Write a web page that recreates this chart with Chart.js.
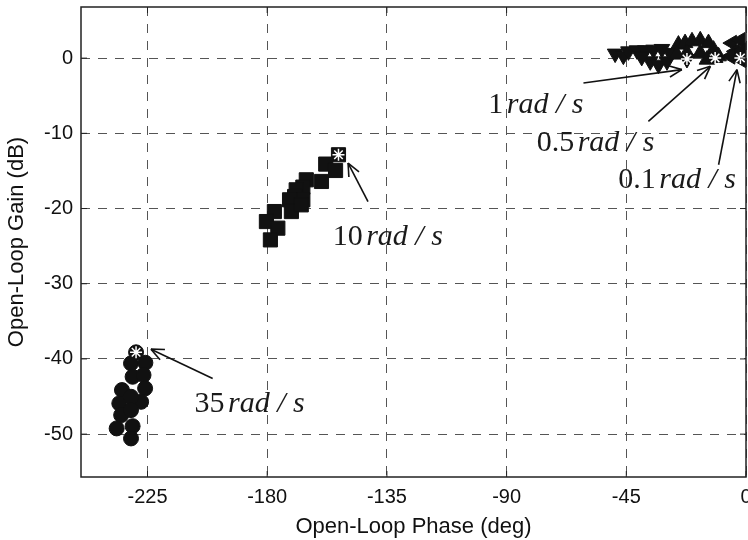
<!DOCTYPE html>
<html>
<head>
<meta charset="utf-8">
<script src="https://cdn.jsdelivr.net/npm/chart.js@4.4.0/dist/chart.umd.min.js"></script>
<style>
  html, body { margin: 0; padding: 0; background: #fff; }
</style>
</head>
<body>
<canvas id="nichols" width="748" height="540"></canvas>
<script>
// Plantillas de Nichols: fase (deg) y ganancia (dB)
const xTicks = [-225, -180, -135, -90, -45, 0];
const yTicks = [-50, -40, -30, -20, -10, 0];

// 0.1 rad/s (triangulos hacia la izquierda)
const tri01Phase = [-5.3, -2.1, -4.0, -1.1, -5.9, -1.5, -2.1];
const tri01Gain  = [2.0, 2.37, 0.9, 1.13, 0.24, -0.29, 0.03];

// 0.5 rad/s (triangulos hacia arriba)
const tri05Phase = [-25.4, -22.9, -20.3, -17.2, -14.1, -12.2, -17.2, -22.2, -26.0, -10.3, -14.7, -11.6];
const tri05Gain  = [1.8, 2.0, 2.24, 2.37, 2.0, 1.13, 0.69, 0.69, 0.47, 0.24, -0.2, 0.03];

// 1 rad/s (triangulos hacia abajo)
const tri1Phase = [-49.2, -46.1, -44.2, -41.0, -37.9, -34.8, -31.6, -36.0, -32.9, -29.7, -28.5, -39.2, -22.2];
const tri1Gain  = [0.6, 0.33, 0.9, 1.04, 1.04, 1.13, 1.22, -0.42, -0.87, -0.42, 0.69, 0.16, -0.11];

// 10 rad/s (cuadrados)
const sq10Phase = [-153.2, -158.0, -154.3, -159.6, -165.3, -166.6, -169.1, -169.7, -166.6, -171.6, -170.9, -167.2, -177.3, -180.3, -176.0, -178.8];
const sq10Gain  = [-12.85, -14.09, -14.94, -16.40, -16.18, -17.15, -17.51, -18.40, -18.84, -18.84, -20.40, -19.51, -20.40, -21.73, -22.61, -24.17];

// 35 rad/s (circulos)
const cir35Phase = [-229.3, -231.2, -225.8, -230.6, -226.5, -234.6, -225.9, -235.6, -227.4, -231.2, -234.9, -231.2, -230.6, -236.6, -231.2];
const cir35Gain  = [-39.12, -40.59, -40.51, -42.37, -42.14, -44.14, -43.91, -45.91, -45.70, -45.03, -47.47, -46.80, -48.94, -49.24, -50.57];

// Planta nominal (asteriscos blancos)
const nominalPhase = [-2.1, -11.6, -22.2, -153.2, -229.3];
const nominalGain  = [0.03, 0.03, -0.11, -12.85, -39.12];

// Etiquetas de frecuencia con flecha (texto, ancla del texto, cola y punta de la flecha)
const freqLabels = ['1', '0.5', '0.1', '10', '35'];
const annotations = [
  { tx: -96.9,  ty: -7.26,  fx: -61.1,  fy: -3.3,   hx: -24.1,  hy: -1.53 },
  { tx: -78.7,  ty: -12.3,  fx: -36.7,  fy: -8.42,  hx: -13.4,  hy: -1.09 },
  { tx: -48.0,  ty: -17.24, fx: -10.3,  fy: -14.18, hx: -3.4,   hy: -1.53 },
  { tx: -155.4, ty: -24.8,  fx: -142.1, fy: -19.07, hx: -149.6, hy: -13.95 },
  { tx: -207.3, ty: -47.1,  fx: -200.5, fy: -42.6,  hx: -223.7, hy: -38.7 }
];

const toPoints = (xs, ys) => xs.map((v, i) => ({ x: v, y: ys[i] }));

const markerSet = (data, style, radius, rotation) => ({
  data,
  pointStyle: style,
  pointRadius: radius,
  rotation: rotation || 0,
  backgroundColor: '#111',
  borderColor: '#111',
  borderWidth: 1,
  showLine: false,
  order: 1
});

/**
 * Dibuja el marco, las marcas de eje hacia dentro y las etiquetas con flechas.
 */
const nicholsDecor = {
  id: 'nicholsDecor',
  afterDatasetsDraw(chart) {
    const { ctx, chartArea: a, scales: { x, y } } = chart;
    const seg = (x1, y1, x2, y2) => { ctx.beginPath(); ctx.moveTo(x1, y1); ctx.lineTo(x2, y2); ctx.stroke(); };
    ctx.save();

    ctx.strokeStyle = '#222';
    ctx.lineWidth = 1;
    xTicks.forEach(v => {
      const px = x.getPixelForValue(v);
      seg(px, a.bottom, px, a.bottom - 6);
      seg(px, a.top, px, a.top + 6);
    });
    yTicks.forEach(v => {
      const py = y.getPixelForValue(v);
      seg(a.left, py, a.left + 6, py);
      seg(a.right, py, a.right - 6, py);
    });

    ctx.lineWidth = 1.5;
    ctx.strokeRect(a.left, a.top, a.right - a.left, a.bottom - a.top);

    // Textos y flechas
    ctx.fillStyle = '#1a1a1a';
    ctx.strokeStyle = '#111';
    ctx.textBaseline = 'alphabetic';
    ctx.textAlign = 'left';
    annotations.forEach((n, i) => {
      let px = x.getPixelForValue(n.tx);
      const py = y.getPixelForValue(n.ty);
      ctx.font = '30px "Liberation Serif", "Times New Roman", serif';
      const num = freqLabels[i] + ' ';
      ctx.fillText(num, px, py);
      px += ctx.measureText(num).width - 4;
      ctx.font = 'italic 30px "Liberation Serif", "Times New Roman", serif';
      ctx.fillText('rad / s', px, py);

      const x1 = x.getPixelForValue(n.fx), y1 = y.getPixelForValue(n.fy);
      const x2 = x.getPixelForValue(n.hx), y2 = y.getPixelForValue(n.hy);
      ctx.lineWidth = 1.6;
      seg(x1, y1, x2, y2);
      const ang = Math.atan2(y2 - y1, x2 - x1);
      const len = 14, spread = 0.42;
      seg(x2, y2, x2 - len * Math.cos(ang - spread), y2 - len * Math.sin(ang - spread));
      seg(x2, y2, x2 - len * Math.cos(ang + spread), y2 - len * Math.sin(ang + spread));
    });
    ctx.restore();
  }
};

const tickFont = { family: '"Liberation Sans", Arial, sans-serif', size: 20 };
const titleFont = { family: '"Liberation Sans", Arial, sans-serif', size: 22 };

new Chart(document.getElementById('nichols'), {
  type: 'scatter',
  data: {
    datasets: [
      {
        data: toPoints(nominalPhase, nominalGain),
        pointStyle: 'star',
        pointRadius: 6,
        borderColor: '#fff',
        backgroundColor: '#fff',
        borderWidth: 1.5,
        order: 0
      },
      markerSet(toPoints(tri01Phase, tri01Gain), 'triangle', 9, -90),
      markerSet(toPoints(tri05Phase, tri05Gain), 'triangle', 9, 0),
      markerSet(toPoints(tri1Phase, tri1Gain), 'triangle', 9, 180),
      markerSet(toPoints(sq10Phase, sq10Gain), 'rect', 10),
      markerSet(toPoints(cir35Phase, cir35Gain), 'circle', 7.5)
    ]
  },
  options: {
    responsive: false,
    animation: false,
    events: [],
    layout: { autoPadding: false, padding: { top: 7, right: 2, left: 0, bottom: 0 } },
    plugins: { legend: { display: false }, tooltip: { enabled: false } },
    scales: {
      x: {
        type: 'linear',
        min: -250,
        max: 0,
        afterBuildTicks: s => { s.ticks = xTicks.map(v => ({ value: v })); },
        afterFit: s => { s.height = 63; s.paddingLeft = 0; s.paddingRight = 0; },
        ticks: { font: tickFont, color: '#111', padding: 8, maxRotation: 0, autoSkip: false, callback: v => String(v) },
        grid: { color: '#555', lineWidth: 1, drawTicks: false },
        border: { display: false, dash: [9, 8] },
        title: { display: true, text: 'Open-Loop Phase (deg)', font: titleFont, color: '#111', padding: { top: 0, bottom: 0 } }
      },
      y: {
        type: 'linear',
        min: -55.7,
        max: 6.8,
        afterBuildTicks: s => { s.ticks = yTicks.map(v => ({ value: v })); },
        afterFit: s => { s.width = 81; s.paddingTop = 0; s.paddingBottom = 0; },
        ticks: { font: tickFont, color: '#111', padding: 8, autoSkip: false, callback: v => String(v) },
        grid: { color: '#555', lineWidth: 1, drawTicks: false },
        border: { display: false, dash: [9, 8] },
        title: { display: true, text: 'Open-Loop Gain (dB)', font: titleFont, color: '#111', padding: { top: 4, bottom: 0 } }
      }
    }
  },
  plugins: [nicholsDecor]
});
</script>
</body>
</html>
